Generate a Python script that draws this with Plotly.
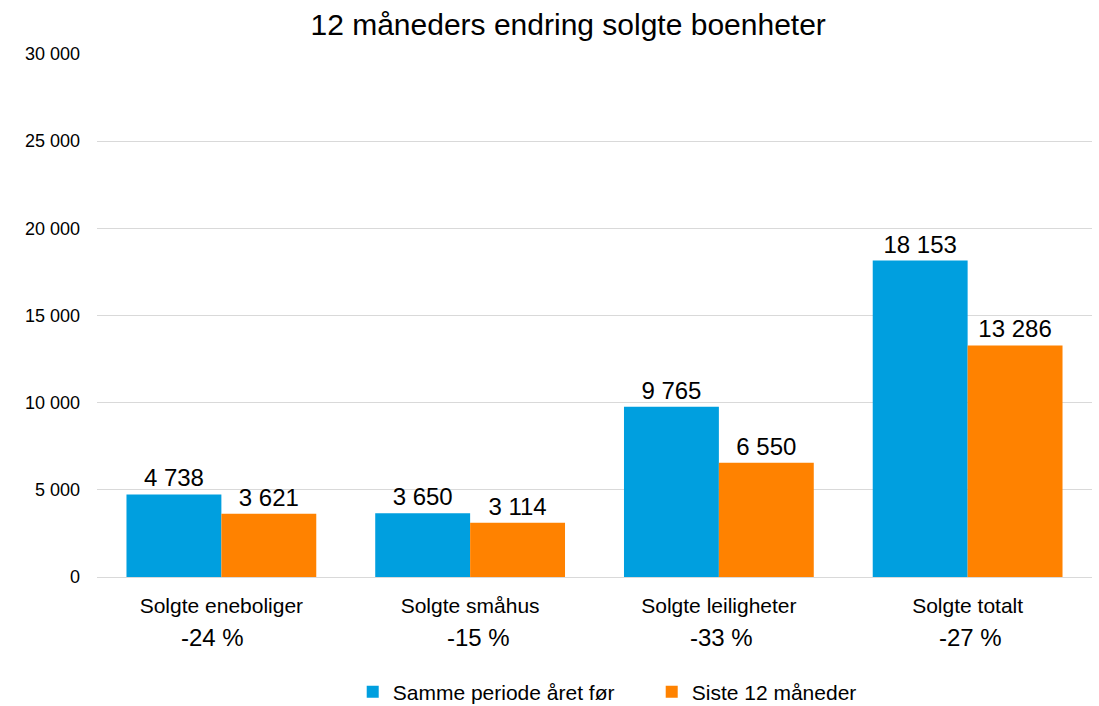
import plotly.graph_objects as go

categories = ["Solgte eneboliger", "Solgte småhus", "Solgte leiligheter", "Solgte totalt"]
prev_year = [4738, 3650, 9765, 18153]
last_12 = [3621, 3114, 6550, 13286]
series_names = ["Samme periode året før", "Siste 12 måneder"]
y_ticks = [0, 5000, 10000, 15000, 20000, 25000, 30000]

pct = [round((b - a) / a * 100) for a, b in zip(prev_year, last_12)]

FONT = "Liberation Sans, Arial, sans-serif"
BLUE = "#009FDF"
ORANGE = "#FF8200"
pct_shift = [-9, 8, 3, 3]

fig = go.Figure()
fig.add_trace(go.Bar(
    x=categories, y=prev_year, name=series_names[0], marker_color=BLUE,
    marker_line_width=0,
    texttemplate="%{y:,}", textposition="outside", cliponaxis=False,
    textfont=dict(size=24, color="#000000", family=FONT),
))
fig.add_trace(go.Bar(
    x=categories, y=last_12, name=series_names[1], marker_color=ORANGE,
    marker_line_width=0,
    texttemplate="%{y:,}", textposition="outside", cliponaxis=False,
    textfont=dict(size=24, color="#000000", family=FONT),
))

for c, p, s in zip(categories, pct, pct_shift):
    fig.add_annotation(x=c, xref="x", y=-0.1166, yref="paper", text=f"{p} %",
                       showarrow=False, font=dict(size=24, color="#000000", family=FONT),
                       yanchor="middle", xshift=s)

fig.update_layout(
    width=1099, height=706,
    paper_bgcolor="white", plot_bgcolor="white",
    separators=", ",
    font=dict(family=FONT, color="#000000"),
    title=dict(text="12 måneders endring solgte boenheter", x=0.517, xanchor="center",
               y=0.965, yanchor="middle", font=dict(size=30, color="#000000", family=FONT)),
    barmode="group", bargap=0.237, bargroupgap=0,
    margin=dict(l=97, r=7, t=54, b=129, autoexpand=False),
    showlegend=True,
    legend=dict(orientation="h", x=0.257, xanchor="left", y=-0.22, yanchor="middle",
                font=dict(size=21, color="#000000", family=FONT), traceorder="normal",
                itemwidth=30, entrywidth=254, entrywidthmode="pixels"),
    xaxis=dict(showgrid=False, showline=True, linecolor="#d9d9d9", linewidth=1,
               ticks="", tickfont=dict(size=21, color="#000000", family=FONT),
               ticklabelstandoff=10),
    yaxis=dict(range=[0, 30000], tickvals=y_ticks, tickformat=",", showgrid=True,
               gridcolor="#d9d9d9", gridwidth=1, zeroline=False, showline=False,
               tickfont=dict(size=18, color="#000000", family=FONT), ticks="",
               ticklabelstandoff=16),
)

fig.write_html("out.html", config={"displayModeBar": False},
               post_script="document.body.style.margin='0';")
